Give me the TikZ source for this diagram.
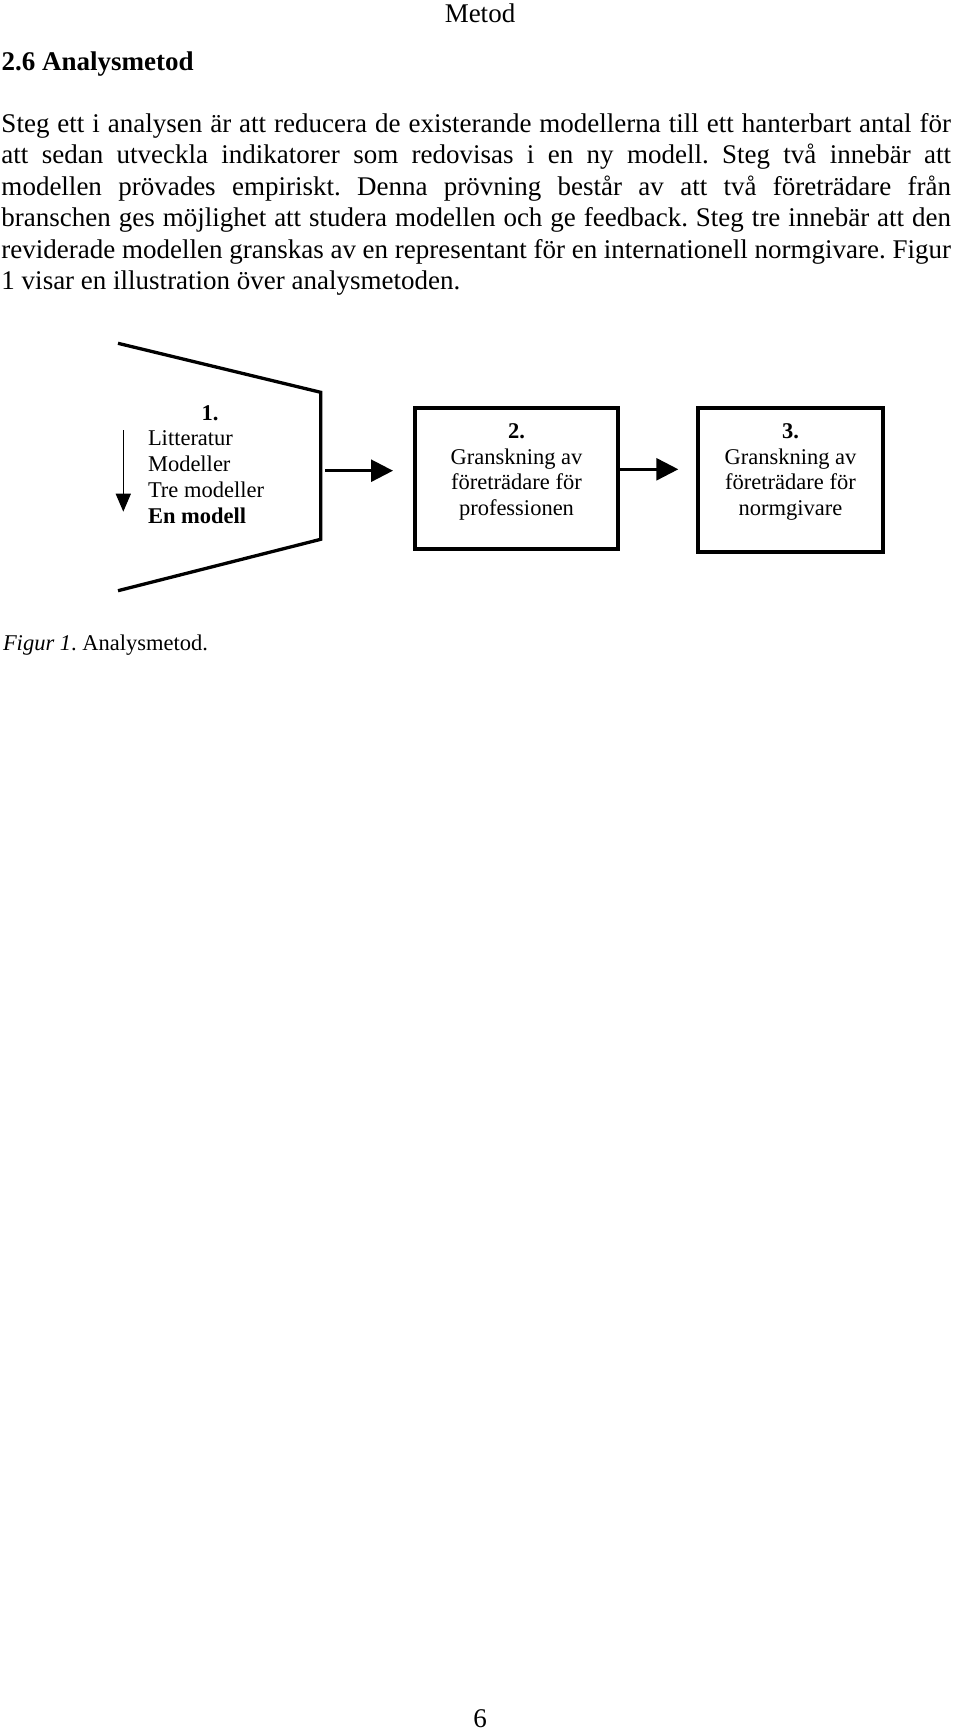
\documentclass[tikz,border=0pt]{standalone}
\usepackage{fontspec}
\setmainfont{Liberation Serif}
\usetikzlibrary{arrows.meta}
\frenchspacing
\begin{document}
\begin{tikzpicture}[x=1pt,y=-1pt,
  every node/.style={inner sep=0pt, outer sep=0pt},
  bodytext/.style={font=\fontsize{27}{31.5}\selectfont},
  figtext/.style={font=\fontsize{22.5}{25.5}\selectfont},
  stepbox/.style={draw, line width=4pt},
  funnelline/.style={line width=3.3pt, line join=miter},
  bigarrow/.style={line width=2.7pt, -{Triangle[length=22pt,width=22pt]}},
  smallarrow/.style={line width=1.4pt, -{Triangle[length=18pt,width=15pt]}}]
\useasboundingbox (0,0) rectangle (960,1730);

% header and text
\node[bodytext, anchor=base] (hdr) at (480,22.5) {Metod};
\node[bodytext, anchor=base west] (sec) at (1.7,70.5) {\textbf{2.6 Analysmetod}};
\node[bodytext, anchor=base west, align=left] (para) at (1.5,289.5) {%
\makebox[949.5pt][s]{Steg ett i analysen är att reducera de existerande modellerna till ett hanterbart antal för}\\
\makebox[949.5pt][s]{att sedan utveckla indikatorer som redovisas i en ny modell. Steg två innebär att}\\
\makebox[949.5pt][s]{modellen prövades empiriskt. Denna prövning består av att två företrädare från}\\
\makebox[949.5pt][s]{branschen ges möjlighet att studera modellen och ge feedback. Steg tre innebär att den}\\
\makebox[949.5pt][s]{reviderade modellen granskas av en representant för en internationell normgivare. Figur}\\
1 visar en illustration över analysmetoden.};

% funnel
\draw[funnelline] (118,343.3) -- (320.7,392.3) -- (320.7,539.3) -- (118,590.7);
\node[figtext, anchor=base] (n1) at (210,420.7) {\textbf{1.}};
\node[figtext, anchor=base west, align=left, font=\fontsize{22.5}{25.8}\selectfont] (list1) at (148,523.3)
  {Litteratur\\Modeller\\Tre modeller\\\textbf{En modell}};
\coordinate (s1) at (123.3,430);
\coordinate (s2) at (123.3,511.7);
\draw[smallarrow] (s1) -- (s2);

% boxes
\node[stepbox, minimum width=203pt, minimum height=141pt] (b2) at (516.5,478) {};
\node[stepbox, minimum width=184.4pt, minimum height=143.4pt] (b3) at (790.5,480) {};
\node[figtext, anchor=base, align=center] (t2) at (516.5,515)
  {\textbf{2.}\\Granskning av\\företrädare för\\professionen};
\node[figtext, anchor=base, align=center] (t3) at (790.5,515)
  {\textbf{3.}\\Granskning av\\företrädare för\\normgivare};

% arrows
\coordinate (f1) at (325,470.7);
\draw[bigarrow, shorten >=22pt] (f1) -- (f1 -| b2.west);
\coordinate (a2s) at ([yshift=8.7pt]b2.east);
\draw[bigarrow, shorten >=20pt] (a2s) -- (a2s -| b3.west);

% caption and page number
\node[figtext, anchor=base west] (cap) at (3,650.7) {\textit{Figur 1}. Analysmetod.};
\node[bodytext, anchor=base] (pg) at (480,1727.5) {6};
\end{tikzpicture}
\end{document}
